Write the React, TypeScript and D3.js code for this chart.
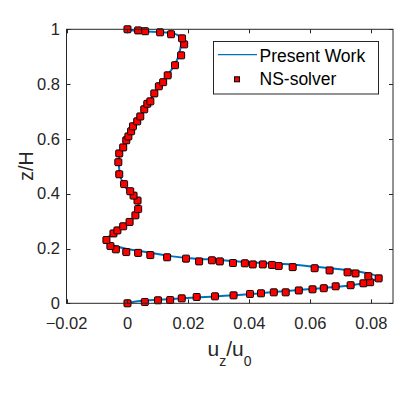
import * as d3 from "d3";
import { useEffect, useRef } from "react";

// NS-solver markers: [u_z/u_0, z/H]
const solverU = [
  0, 0.0057, 0.01, 0.014, 0.0178, 0.0227, 0.0287, 0.0348, 0.0402, 0.0438,
  0.048, 0.0519, 0.0562, 0.0607, 0.0644, 0.0683, 0.0732, 0.0774, 0.0796, 0.0824,
  0.079, 0.0748, 0.0722, 0.0663, 0.0614, 0.0542, 0.0496, 0.0474, 0.0444, 0.0411,
  0.0385, 0.0346, 0.0303, 0.0277, 0.0235, 0.0192, 0.013, 0.0075, 0.0035, -0.0004,
  -0.0038, -0.0056, -0.0069, -0.0046, -0.0033, -0.0014, 0.0007, 0.0026, 0.0035, 0.0033,
  0.002, 0.0009, -0.0011, -0.0027, -0.003, -0.0027, -0.0014, -0.0004, 0.0003, 0.0012,
  0.0018, 0.0032, 0.0042, 0.0055, 0.0065, 0.0075, 0.0088, 0.0103, 0.0117, 0.0132,
  0.0156, 0.0176, 0.0186, 0.0179, 0.0143, 0.0107, 0.0058, 0.0035, 0,
];
const solverZ = [
  0, 0.0047, 0.011, 0.012, 0.018, 0.023, 0.0255, 0.029, 0.034, 0.0365,
  0.04, 0.04, 0.047, 0.051, 0.055, 0.062, 0.066, 0.073, 0.077, 0.091,
  0.099, 0.109, 0.113, 0.12, 0.128, 0.132, 0.136, 0.14, 0.142, 0.142,
  0.146, 0.147, 0.153, 0.157, 0.153, 0.163, 0.168, 0.176, 0.184, 0.187,
  0.197, 0.209, 0.231, 0.255, 0.266, 0.281, 0.297, 0.321, 0.344, 0.375,
  0.393, 0.409, 0.435, 0.471, 0.515, 0.547, 0.569, 0.595, 0.609, 0.628,
  0.646, 0.664, 0.682, 0.708, 0.728, 0.737, 0.766, 0.792, 0.807, 0.832,
  0.869, 0.905, 0.945, 0.967, 0.982, 0.989, 0.993, 0.996, 1,
];

// Present Work curve
const workU = [
  0, 0.0022, 0.0131, 0.024, 0.0349, 0.048, 0.0589, 0.0698, 0.0774, 0.0802,
  0.0827, 0.0786, 0.0698, 0.0589, 0.0513, 0.0371, 0.0349, 0.0295, 0.024, 0.0186,
  0.0131, 0.0088, 0.0044, 0.0001, -0.0043, -0.0067, -0.007, -0.0054, -0.0034, -0.0013,
  0.0008, 0.0026, 0.0035, 0.0036, 0.0033, 0.002, -0.0002, -0.0018, -0.0026, -0.0028,
  -0.0025, -0.0015, 0.0002, 0.0018, 0.0038, 0.0057, 0.0077, 0.01, 0.0123, 0.0146,
  0.0164, 0.0173, 0.0177, 0.0175, 0.0165, 0.0146, 0.011, 0.0061, 0.0028, 0.0002, 0,
];
const workZ = [
  0, 0.006, 0.015, 0.022, 0.029, 0.041, 0.051, 0.061, 0.073, 0.082,
  0.094, 0.1095, 0.124, 0.136, 0.143, 0.152, 0.154, 0.159, 0.162, 0.166,
  0.174, 0.182, 0.19, 0.198, 0.21, 0.224, 0.235, 0.249, 0.268, 0.282,
  0.299, 0.322, 0.344, 0.362, 0.377, 0.395, 0.417, 0.446, 0.479, 0.516,
  0.545, 0.57, 0.607, 0.643, 0.68, 0.713, 0.746, 0.783, 0.819, 0.855,
  0.892, 0.928, 0.954, 0.968, 0.979, 0.986, 0.99, 0.992, 0.994, 0.999, 1,
];

const xTicks = [-0.02, 0, 0.02, 0.04, 0.06, 0.08];
const yTicks = [0, 0.2, 0.4, 0.6, 0.8, 1];

const FONT = '"Liberation Sans", Arial, sans-serif';
const AXIS = "#262626";

export default function App() {
  const ref = useRef<SVGSVGElement>(null);

  useEffect(() => {
    const svg = d3.select(ref.current);
    svg.selectAll("*").remove();

    const left = 66.5, right = 393, top = 29.3, bottom = 303.3;
    const x = d3.scaleLinear().domain([-0.02, 0.0871]).range([left, right]);
    const y = d3.scaleLinear().domain([0, 1]).range([bottom, top]);

    const g = svg.append("g");

    // data line
    const line = d3.line<number>()
      .x((i) => x(workU[i]))
      .y((i) => y(workZ[i]))
      .curve(d3.curveCatmullRom.alpha(0.5));
    g.append("path")
      .attr("d", line(d3.range(workU.length)))
      .attr("fill", "none")
      .attr("stroke", "#0072BD")
      .attr("stroke-width", 2);

    // markers
    const ms = 7;
    g.selectAll("rect.pt")
      .data(d3.range(solverU.length))
      .enter()
      .append("rect")
      .attr("class", "pt")
      .attr("x", (i) => x(solverU[i]) - ms / 2)
      .attr("y", (i) => y(solverZ[i]) - ms / 2)
      .attr("width", ms)
      .attr("height", ms)
      .attr("rx", 1)
      .attr("fill", "#ff0000")
      .attr("stroke", "#000")
      .attr("stroke-width", 1);

    // axes box
    g.append("rect")
      .attr("x", left)
      .attr("y", top)
      .attr("width", right - left)
      .attr("height", bottom - top)
      .attr("fill", "none")
      .attr("stroke", AXIS)
      .attr("stroke-width", 1);

    const tl = 4;
    xTicks.forEach((t) => {
      const px = Math.round(x(t)) + 0.5;
      g.append("line").attr("x1", px).attr("x2", px).attr("y1", bottom).attr("y2", bottom - tl).attr("stroke", AXIS);
      g.append("line").attr("x1", px).attr("x2", px).attr("y1", top).attr("y2", top + tl).attr("stroke", AXIS);
      g.append("text")
        .attr("x", x(t))
        .attr("y", 329)
        .attr("text-anchor", "middle")
        .attr("font-family", FONT)
        .attr("font-size", 16.5)
        .attr("fill", AXIS)
        .text(d3.format("")(t));
    });
    yTicks.forEach((t) => {
      const py = Math.round(y(t)) + 0.5;
      g.append("line").attr("x1", left).attr("x2", left + tl).attr("y1", py).attr("y2", py).attr("stroke", AXIS);
      g.append("line").attr("x1", right).attr("x2", right - tl).attr("y1", py).attr("y2", py).attr("stroke", AXIS);
      g.append("text")
        .attr("x", 60)
        .attr("y", y(t))
        .attr("dy", "0.35em")
        .attr("text-anchor", "end")
        .attr("font-family", FONT)
        .attr("font-size", 16.5)
        .attr("fill", AXIS)
        .text(d3.format("")(t));
    });

    // axis labels
    g.append("text")
      .attr("transform", "translate(33,166) rotate(-90)")
      .attr("text-anchor", "middle")
      .attr("font-family", FONT)
      .attr("font-size", 19.5)
      .attr("fill", AXIS)
      .text("z/H");

    const xl = g.append("text")
      .attr("x", 229.5)
      .attr("y", 355.7)
      .attr("text-anchor", "middle")
      .attr("font-family", FONT)
      .attr("font-size", 21)
      .attr("fill", AXIS);
    xl.append("tspan").text("u");
    xl.append("tspan").attr("font-size", 14).attr("dy", 10).text("z");
    xl.append("tspan").attr("dy", -10).text("/u");
    xl.append("tspan").attr("font-size", 14).attr("dy", 10).text("0");

    // legend
    const lg = g.append("g");
    lg.append("rect")
      .attr("x", 213.5)
      .attr("y", 41.5)
      .attr("width", 165)
      .attr("height", 52.5)
      .attr("fill", "#fff")
      .attr("stroke", AXIS)
      .attr("stroke-width", 1);
    lg.append("line")
      .attr("x1", 218)
      .attr("x2", 257)
      .attr("y1", 54.7)
      .attr("y2", 54.7)
      .attr("stroke", "#0072BD")
      .attr("stroke-width", 1.2);
    lg.append("rect")
      .attr("x", 234.5)
      .attr("y", 76.8)
      .attr("width", 5)
      .attr("height", 5)
      .attr("fill", "#ff0000")
      .attr("stroke", "#000")
      .attr("stroke-width", 1);
    lg.append("text")
      .attr("x", 259.5)
      .attr("y", 61.7)
      .attr("font-family", FONT)
      .attr("font-size", 17.5)
      .attr("fill", "#000")
      .text("Present Work");
    lg.append("text")
      .attr("x", 259.5)
      .attr("y", 85)
      .attr("font-family", FONT)
      .attr("font-size", 17.5)
      .attr("fill", "#000")
      .text("NS-solver");
  }, []);

  return (
    <svg
      ref={ref}
      width={409}
      height={395}
      style={{ position: "absolute", left: 0, top: 0, background: "#fff" }}
    />
  );
}
